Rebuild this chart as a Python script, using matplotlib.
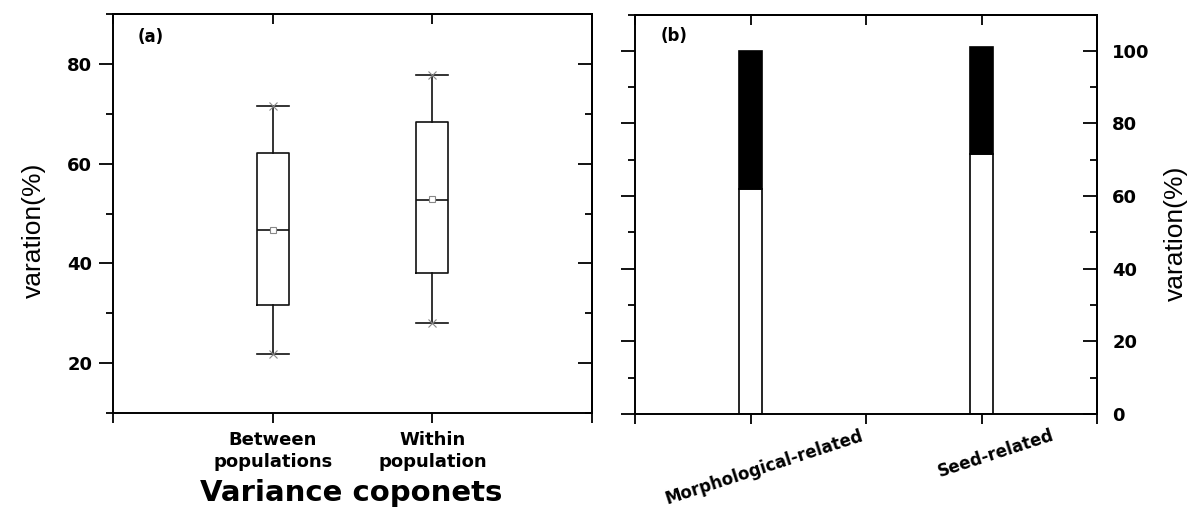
import matplotlib
matplotlib.use('Agg')
import matplotlib.pyplot as plt
import matplotlib.transforms as mtransforms
from matplotlib.ticker import MultipleLocator, NullFormatter

# panel (a): box summary of variance components
groups_a = ['Between\npopulations', 'Within\npopulation']
whisker_low = [21.9, 28.1]
q1 = [31.7, 38.0]
median = [46.6, 52.8]
mean = [46.7, 53.0]
q3 = [62.1, 68.3]
whisker_high = [71.5, 77.8]

# panel (b): stacked share of variation
groups_b = ['Morphological-related', 'Seed-related']
lower_part = [62.0, 71.5]
upper_part = [38.0, 29.5]

plt.rcParams['font.family'] = ['DejaVu Sans']
plt.rcParams['font.weight'] = 'bold'
plt.rcParams['axes.linewidth'] = 1.4

fig = plt.figure(figsize=(11.96, 5.09), dpi=100)
ax1 = fig.add_axes([0.0945, 0.1886, 0.4005, 0.7839])
ax2 = fig.add_axes([0.531, 0.1866, 0.3863, 0.7849])

line_col = '#111111'

# --- panel (a) ---
pos_a = [1, 2]
stats = []
for i in range(len(groups_a)):
    stats.append({'whislo': whisker_low[i], 'q1': q1[i], 'med': median[i],
                  'q3': q3[i], 'whishi': whisker_high[i], 'mean': mean[i],
                  'fliers': []})
ax1.bxp(stats, positions=pos_a, widths=0.2, capwidths=0.2, showmeans=True,
        showfliers=False,
        boxprops=dict(color=line_col, lw=1.2),
        whiskerprops=dict(color=line_col, lw=1.2),
        capprops=dict(color=line_col, lw=1.2),
        medianprops=dict(color=line_col, lw=1.2),
        meanprops=dict(marker='s', markersize=4, markerfacecolor='white',
                       markeredgecolor='#888888', markeredgewidth=0.8))
ax1.plot(pos_a, whisker_low, 'x', color='#888888', ms=6, mew=0.8)
ax1.plot(pos_a, whisker_high, 'x', color='#888888', ms=6, mew=0.8)

ax1.set_xlim(0, 3)
ax1.set_ylim(10, 90)
ax1.set_yticks([20, 40, 60, 80])
ax1.yaxis.set_minor_locator(MultipleLocator(10))
ax1.set_xticks(pos_a)
ax1.set_xticklabels(groups_a, fontsize=13, fontweight='bold', linespacing=1.3)
ax1.set_xticks([0, 3], minor=True)
ax1.tick_params(axis='y', which='major', direction='out', length=10, width=1.3,
                labelsize=13, pad=5, right=False)
ax1.tick_params(axis='y', which='minor', direction='out', length=5, width=1.3, right=False)
ax1.tick_params(axis='x', which='both', direction='out', length=7, width=1.3, pad=6, top=False)

sec = ax1.secondary_yaxis('right')
sec.set_yticks([20, 40, 60, 80])
sec.yaxis.set_minor_locator(MultipleLocator(10))
sec.yaxis.set_major_formatter(NullFormatter())
sec.tick_params(which='major', direction='in', length=10, width=1.3)
sec.tick_params(which='minor', direction='in', length=5, width=1.3)
sec = ax1.secondary_xaxis('top')
sec.set_xticks([0, 1, 2, 3])
sec.xaxis.set_major_formatter(NullFormatter())
sec.tick_params(direction='in', length=7, width=1.3)

ax1.text(0.052, 0.942, '(a)', transform=ax1.transAxes, fontsize=12,
         fontweight='bold', ha='left', va='center')

# --- panel (b) ---
pos_b = [1, 3]
ax2.bar(pos_b, lower_part, 0.2, color='white', edgecolor='black', lw=1.2)
ax2.bar(pos_b, upper_part, 0.2, bottom=lower_part, color='black',
        edgecolor='black', lw=1.2)

ax2.set_xlim(0, 4)
ax2.set_ylim(0, 110)
ax2.set_yticks(range(0, 101, 20))
ax2.yaxis.set_minor_locator(MultipleLocator(10))
ax2.tick_params(axis='y', which='major', direction='out', length=10, width=1.3,
                labelleft=False, right=False)
ax2.tick_params(axis='y', which='minor', direction='out', length=5, width=1.3,
                labelleft=False, right=False)
ax2.set_xticks(pos_b)
ax2.set_xticklabels(groups_b, fontsize=12, fontweight='bold', rotation=18, ha='center')
ax2.set_xticks([0, 2, 4], minor=True)
ax2.tick_params(axis='x', which='both', direction='out', length=7, width=1.3, pad=2, top=False)
shift = mtransforms.ScaledTranslation(10 / 72, 0, fig.dpi_scale_trans)
for lbl in ax2.get_xticklabels():
    lbl.set_transform(lbl.get_transform() + shift)

sec = ax2.secondary_yaxis('right')
sec.set_yticks(range(0, 101, 20))
sec.yaxis.set_minor_locator(MultipleLocator(10))
sec.tick_params(which='major', direction='in', length=10, width=1.3,
                labelsize=13, pad=11)
sec.tick_params(which='minor', direction='in', length=5, width=1.3)
sec = ax2.secondary_xaxis('top')
sec.set_xticks([0, 1, 2, 3, 4])
sec.xaxis.set_major_formatter(NullFormatter())
sec.tick_params(direction='in', length=7, width=1.3)

ax2.text(0.056, 0.946, '(b)', transform=ax2.transAxes, fontsize=12,
         fontweight='bold', ha='left', va='center')

# axis titles
fig.text(34 / 1196, 1 - 230 / 509, 'varation(%)', rotation=90, ha='center',
         va='center', fontsize=19, fontweight='normal',
         family=['Liberation Sans', 'DejaVu Sans'])
fig.text(1176 / 1196, 1 - 233 / 509, 'varation(%)', rotation=90, ha='center',
         va='center', fontsize=19, fontweight='normal',
         family=['Liberation Sans', 'DejaVu Sans'])
fig.text(351 / 1196, 1 - 493 / 509, 'Variance coponets', ha='center', va='center',
         fontsize=21, fontweight='bold')

fig.savefig('out.png', dpi=100)
